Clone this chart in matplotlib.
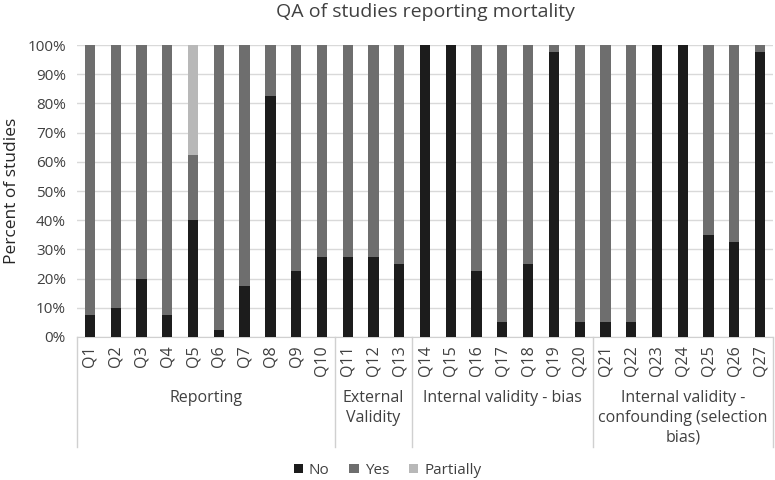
import matplotlib
matplotlib.use("Agg")
import matplotlib.pyplot as plt
import numpy as np

plt.rcParams['font.family'] = ['Open Sans', 'DejaVu Sans']

questions = ["Q%d" % i for i in range(1, 28)]
no = [7.5, 10, 20, 7.5, 40, 2.5, 17.5, 82.5, 22.5, 27.5,
      27.5, 27.5, 25,
      100, 100, 22.5, 5, 25, 97.5, 5,
      5, 5, 100, 100, 35, 32.5, 97.5]
partially = [0, 0, 0, 0, 37.5, 0, 0, 0, 0, 0,
             0, 0, 0,
             0, 0, 0, 0, 0, 0, 0,
             0, 0, 0, 0, 0, 0, 0]
yes = [100 - n - p for n, p in zip(no, partially)]

groups = ["Reporting", "External\nValidity", "Internal validity - bias",
          "Internal validity -\nconfounding (selection\nbias)"]
group_sizes = [10, 3, 7, 7]

fig = plt.figure(figsize=(7.75, 4.8), dpi=100)
ax = fig.add_axes([0.0994, 0.298, 0.8980, 0.608])

x = np.arange(len(questions))
w = 0.4
ax.bar(x, no, w, color="#1c1c1c", label="No", zorder=3)
ax.bar(x, yes, w, bottom=no, color="#6e6e6e", label="Yes", zorder=3)
ax.bar(x, partially, w, bottom=np.array(no) + np.array(yes), color="#b8b8b8",
       label="Partially", zorder=3)

ax.set_xlim(-0.5, len(questions) - 0.5)
ax.set_ylim(0, 100)
ax.set_yticks(range(0, 101, 10))
ax.set_yticklabels(["%d%%" % v for v in range(0, 101, 10)], fontsize=11, color="#404040")
ax.yaxis.grid(True, color="#d9d9d9", linewidth=1, zorder=0)
ax.tick_params(axis="y", length=0, pad=8)
ax.tick_params(axis="x", length=0, pad=6)
ax.set_xticks(x)
ax.set_xticklabels(questions, rotation=90, fontsize=11.5, color="#404040")
for s in ["top", "right", "left"]:
    ax.spines[s].set_visible(False)
ax.spines["bottom"].set_color("#d0d0d0")

ax.set_ylabel("Percent of studies", fontsize=12.5, color="#262626", va="center")
ax.yaxis.set_label_coords(-0.093, 0.5)
ax.set_title("QA of studies reporting mortality", fontsize=14, color="#404040", pad=20)

# group separators and labels
depth = -0.377
bounds = np.concatenate([[0], np.cumsum(group_sizes)]) - 0.5
for b in bounds:
    ax.plot([b, b], [0, depth], transform=ax.get_xaxis_transform(),
            color="#d0d0d0", linewidth=1, clip_on=False)
for g, a, b in zip(groups, bounds[:-1], bounds[1:]):
    ax.text((a + b) / 2, -0.182, g, transform=ax.get_xaxis_transform(),
            ha="center", va="top", fontsize=11.5, color="#404040", linespacing=1.3)

leg = fig.legend(loc="center", bbox_to_anchor=(0.5, 0.02), ncol=3, frameon=False,
                 fontsize=11, handlelength=0.6, handleheight=0.6, handletextpad=0.4,
                 columnspacing=1.3)
for t in leg.get_texts():
    t.set_color("#404040")

fig.savefig("out.png", dpi=100)
